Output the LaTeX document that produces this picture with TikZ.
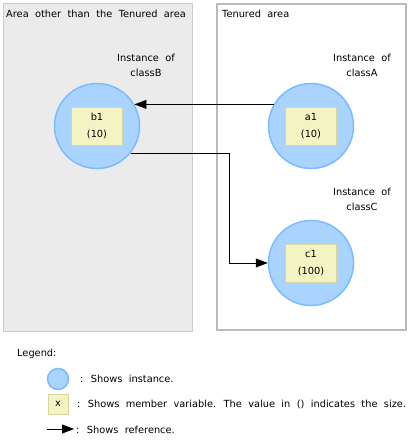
\documentclass[tikz,border=0pt]{standalone}
\usepackage{fontspec}
\setmainfont{DejaVu Sans}[WordSpace=2.05]
\usepackage{xcolor}
\usetikzlibrary{arrows.meta,positioning,calc}

\definecolor{instfill}{HTML}{AAD4FF}
\definecolor{instline}{HTML}{7ABCFF}
\definecolor{memfill}{HTML}{F3F3C4}
\definecolor{memline}{HTML}{D8D89C}
\definecolor{areafill}{HTML}{EBEBEB}
\definecolor{arealine}{HTML}{CCCCCC}
\definecolor{tenline}{HTML}{BBBBBB}

\tikzset{
	instance/.style={circle, fill=instfill, draw=instline, line width=1.5pt, minimum size=85pt, inner sep=0pt},
	member/.style={rectangle, fill=memfill, draw=memline, line width=1pt, minimum width=51pt, minimum height=38pt, inner sep=0pt, align=center, font=\fontsize{9.8}{17}\selectfont},
	plaintext/.style={inner sep=0pt, anchor=west},
	classtext/.style={inner sep=0pt, align=center},
	reflink/.style={-{Triangle[length=12pt,width=9pt]}, line width=0.8pt}
}

\begin{document}
\begin{tikzpicture}[x=1pt, y=-1pt, font=\fontsize{9.8}{15}\selectfont]

		\useasboundingbox (0,0) rectangle (412,440);

		% === Areas ===
		\draw[fill=areafill, draw=arealine, line width=1pt] (3,3) rectangle (192,331);
		\draw[fill=white, draw=tenline, line width=2pt] (217,4) rectangle (406,330);
		\node[plaintext] (areaother) at (6,14) {Area other than the Tenured area};
		\node[plaintext] (areaten) at (222,14) {Tenured area};

		% === Instances ===
		\node[instance] (b1) at (97,126) {};
		\node[instance] (a1) at (311,126) {};
		\node[instance] (c1) at (311,263) {};
		\node[member] (b1var) at (b1) {b1\\(10)};
		\node[member] (a1var) at (a1) {a1\\(10)};
		\node[member] (c1var) at (c1) {c1\\(100)};
		\node[classtext] (classB) at (146,65) {Instance of\\classB};
		\node[classtext] (classA) at (362,65) {Instance of\\classA};
		\node[classtext] (classC) at (362,199) {Instance of\\classC};

		% === References ===
		\coordinate (bend) at (229,263);
		\draw[reflink] (a1.150) -- (a1.150 -| b1.30);
		\draw[reflink] (b1.-39) -| (bend) -- (c1.west);

		% === Legend ===
		\node[plaintext] (legend) at (17,354) {Legend:};
		\node[instance, minimum size=21pt] (leginst) at (58,379) {};
		\node[member, minimum width=20pt, minimum height=20pt] (legmem) at (58,404) {x};
		\coordinate (legfrom) at (47,429);
		\coordinate (legto) at (74,429);
		\draw[reflink] (legfrom) -- (legto);
		\node[plaintext] (legtxt1) at (80,379) {: Shows instance.};
		\node[plaintext] (legtxt2) at (77,404) {: Shows member variable. The value in () indicates the size.};
		\node[plaintext] (legtxt3) at (76,430) {: Shows reference.};
	\end{tikzpicture}
\end{document}
